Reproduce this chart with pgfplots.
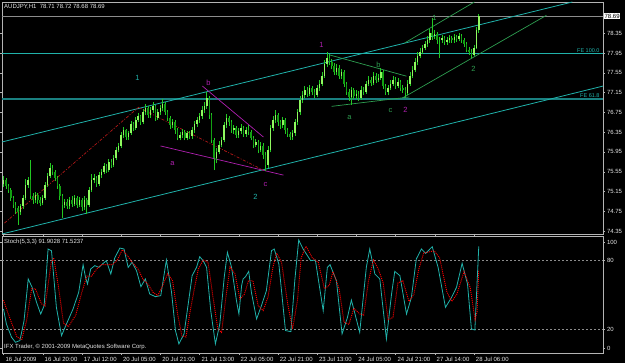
\documentclass[border=0pt]{standalone}
\usepackage{pgfplots}
\usepackage{pgfplotstable}
\usepackage{fontspec}
\setmainfont{Liberation Sans}
\pgfplotsset{compat=1.18}
\definecolor{wick}{HTML}{22C822}
\definecolor{bull}{HTML}{90F860}
\definecolor{bear}{HTML}{12A012}
\definecolor{chan}{HTML}{20B2AA}
\definecolor{fe}{HTML}{1A8080}
\definecolor{grn}{HTML}{2E9E50}
\definecolor{mag}{HTML}{B020B0}
\definecolor{dred}{HTML}{B01818}
\definecolor{frame}{HTML}{B4B4B4}
\definecolor{txt}{HTML}{E6E6E6}
\definecolor{bid}{HTML}{8C8C8C}

\pgfplotstableread{
i o h l c
0 75.30 75.46 75.25 75.38
1 75.38 75.42 75.20 75.26
2 75.26 75.30 75.12 75.18
3 75.18 75.22 74.96 75.02
4 75.02 75.06 74.82 74.88
5 74.88 74.94 74.70 74.81
6 74.81 74.86 74.47 74.73
7 74.73 74.90 74.68 74.85
8 74.85 75.08 74.80 75.02
9 75.02 75.40 74.98 75.28
10 75.28 75.45 75.22 75.38
11 75.38 75.78 75.00 75.06
12 75.06 75.12 74.90 74.98
13 74.98 75.14 74.92 75.08
14 75.08 75.12 74.90 74.98
15 74.98 75.04 74.85 74.92
16 74.92 75.08 74.88 75.02
17 75.02 75.34 74.98 75.28
18 75.28 75.52 75.24 75.46
19 75.46 75.72 75.42 75.62
20 75.62 75.68 75.48 75.54
21 75.54 75.58 75.36 75.42
22 75.42 75.46 75.20 75.26
23 75.26 75.30 74.98 75.06
24 75.06 75.10 74.61 74.88
25 74.88 75.00 74.82 74.94
26 74.94 75.00 74.80 74.85
27 74.85 75.04 74.80 74.98
28 74.98 75.06 74.84 74.90
29 74.90 75.08 74.85 75.02
30 75.02 75.06 74.82 74.88
31 74.88 75.04 74.84 74.98
32 74.98 75.02 74.76 74.83
33 74.83 75.06 74.78 74.98
34 74.98 75.02 74.70 74.88
35 74.88 75.24 74.84 75.18
36 75.18 75.50 75.14 75.38
37 75.38 75.50 75.32 75.42
38 75.42 75.46 75.24 75.30
39 75.30 75.54 75.26 75.48
40 75.48 75.60 75.42 75.54
41 75.54 75.72 75.50 75.66
42 75.66 75.70 75.52 75.58
43 75.58 75.80 75.54 75.74
44 75.74 75.80 75.62 75.68
45 75.68 75.88 75.64 75.82
46 75.82 76.05 75.78 75.99
47 75.99 76.12 75.94 76.07
48 76.07 76.35 76.02 76.29
49 76.29 76.46 76.24 76.39
50 76.39 76.42 76.19 76.25
51 76.25 76.38 76.20 76.33
52 76.33 76.57 76.30 76.51
53 76.51 76.56 76.38 76.43
54 76.43 76.66 76.40 76.59
55 76.59 76.74 76.55 76.67
56 76.67 76.70 76.50 76.55
57 76.55 76.82 76.52 76.75
58 76.75 76.92 76.70 76.83
59 76.83 76.88 76.64 76.69
60 76.69 76.86 76.64 76.79
61 76.79 76.96 76.74 76.87
62 76.87 76.90 76.58 76.63
63 76.63 76.82 76.60 76.75
64 76.75 76.90 76.70 76.83
65 76.83 77.02 76.78 76.92
66 76.92 76.96 76.70 76.75
67 76.75 76.80 76.58 76.63
68 76.63 76.68 76.42 76.49
69 76.49 76.62 76.44 76.55
70 76.55 76.60 76.32 76.39
71 76.39 76.44 76.18 76.23
72 76.23 76.36 76.18 76.29
73 76.29 76.42 76.24 76.35
74 76.35 76.40 76.18 76.23
75 76.23 76.38 76.18 76.33
76 76.33 76.38 76.22 76.27
77 76.27 76.45 76.22 76.39
78 76.39 76.58 76.34 76.51
79 76.51 76.66 76.46 76.59
80 76.59 76.74 76.54 76.67
81 76.67 76.88 76.62 76.79
82 76.79 76.96 76.74 76.87
83 76.87 77.16 76.82 77.04
84 77.04 77.08 76.62 76.69
85 76.69 76.74 76.12 76.19
86 76.19 76.24 75.58 75.82
87 75.82 76.02 75.72 75.95
88 75.95 76.16 75.90 76.09
89 76.09 76.26 76.04 76.19
90 76.19 76.56 76.14 76.49
91 76.49 76.72 76.44 76.63
92 76.63 76.68 76.48 76.55
93 76.55 76.60 76.34 76.39
94 76.39 76.50 76.32 76.43
95 76.43 76.48 76.24 76.29
96 76.29 76.44 76.24 76.37
97 76.37 76.52 76.32 76.43
98 76.43 76.48 76.26 76.31
99 76.31 76.46 76.26 76.39
100 76.39 76.50 76.30 76.35
101 76.35 76.40 76.18 76.23
102 76.23 76.28 76.02 76.09
103 76.09 76.22 76.04 76.15
104 76.15 76.20 75.92 75.99
105 75.99 76.14 75.94 76.07
106 76.07 76.12 75.80 75.89
107 75.89 75.94 75.56 75.68
108 75.68 76.06 75.62 75.99
109 75.99 76.50 75.94 76.43
110 76.43 76.68 76.38 76.59
111 76.59 76.80 76.54 76.69
112 76.69 76.74 76.48 76.55
113 76.55 76.60 76.42 76.49
114 76.49 76.66 76.44 76.59
115 76.59 76.64 76.32 76.39
116 76.39 76.44 76.26 76.31
117 76.31 76.36 76.20 76.25
118 76.25 76.40 76.20 76.33
119 76.33 76.62 76.28 76.55
120 76.55 76.82 76.50 76.75
121 76.75 77.08 76.70 77.00
122 77.00 77.18 76.94 77.10
123 77.10 77.28 77.04 77.20
124 77.20 77.26 77.06 77.12
125 77.12 77.30 77.08 77.24
126 77.24 77.28 77.10 77.16
127 77.16 77.22 77.04 77.10
128 77.10 77.30 77.06 77.24
129 77.24 77.40 77.18 77.32
130 77.32 77.56 77.28 77.48
131 77.48 77.80 77.44 77.72
132 77.72 77.97 77.66 77.84
133 77.84 77.92 77.70 77.76
134 77.76 77.82 77.62 77.68
135 77.68 77.74 77.50 77.56
136 77.56 77.72 77.50 77.64
137 77.64 77.70 77.42 77.48
138 77.48 77.62 77.42 77.56
139 77.56 77.60 77.26 77.32
140 77.32 77.36 77.10 77.16
141 77.16 77.22 76.98 77.06
142 77.06 77.26 76.90 77.20
143 77.20 77.24 77.02 77.08
144 77.08 77.20 77.02 77.12
145 77.12 77.18 76.98 77.04
146 77.04 77.28 77.00 77.20
147 77.20 77.26 77.10 77.16
148 77.16 77.38 77.12 77.32
149 77.32 77.48 77.28 77.40
150 77.40 77.46 77.28 77.34
151 77.34 77.56 77.30 77.48
152 77.48 77.54 77.34 77.40
153 77.40 77.52 77.36 77.44
154 77.44 77.64 77.40 77.56
155 77.56 77.60 77.22 77.28
156 77.28 77.32 77.10 77.16
157 77.16 77.30 77.10 77.24
158 77.24 77.40 77.20 77.32
159 77.32 77.48 77.28 77.40
160 77.40 77.46 77.22 77.28
161 77.28 77.44 77.24 77.36
162 77.36 77.40 77.18 77.24
163 77.24 77.30 77.14 77.20
164 77.20 77.26 77.06 77.14
165 77.14 77.40 77.10 77.32
166 77.32 77.56 77.28 77.48
167 77.48 77.68 77.44 77.60
168 77.60 77.84 77.56 77.76
169 77.76 77.96 77.70 77.89
170 77.89 78.05 77.84 77.97
171 77.97 78.12 77.92 78.05
172 78.05 78.20 78.00 78.13
173 78.13 78.30 78.08 78.21
174 78.21 78.44 78.16 78.35
175 78.35 78.65 78.22 78.29
176 78.29 78.42 78.24 78.33
177 78.33 78.38 78.14 78.21
178 78.21 78.28 77.84 78.21
179 78.21 78.32 78.16 78.25
180 78.25 78.30 78.12 78.17
181 78.17 78.28 78.12 78.21
182 78.21 78.32 78.16 78.25
183 78.25 78.30 78.16 78.21
184 78.21 78.33 78.16 78.27
185 78.27 78.32 78.18 78.23
186 78.23 78.36 78.20 78.29
187 78.29 78.33 78.16 78.21
188 78.21 78.26 78.08 78.13
189 78.13 78.18 77.96 78.01
190 78.01 78.06 77.90 77.97
191 77.97 78.02 77.84 77.91
192 77.91 78.12 77.88 78.05
193 78.05 78.48 78.02 78.41
194 78.41 78.74 78.36 78.69
}\candles

\begin{document}
\begin{tikzpicture}
\fill[black] (0,0) rectangle (625pt,363pt);
\useasboundingbox (0,0) rectangle (625pt,363pt);

% ---------------- price panel ----------------
\begin{axis}[
  at={(2pt,129pt)}, anchor=south west, scale only axis,
  width=601pt, height=232pt,
  xmin=-0.6, xmax=244.7, ymin=74.29, ymax=78.98,
  axis line style={draw=frame},
  xtick=\empty,
  ytick={74.35,74.75,75.15,75.55,75.95,76.35,76.75,77.15,77.55,77.95,78.35},
  yticklabel pos=right,
  tick align=outside, major tick length=2pt, tick style={draw=frame},
  yticklabel style={font=\fontsize{6}{7}\selectfont, text=txt, xshift=-1.5pt,
    /pgf/number format/.cd, fixed, precision=2, fixed zerofill, assume math mode=true},
  clip mode=individual,
]
% horizontal levels
\addplot[bid, line width=0.6pt] coordinates {(-0.6,78.69) (244.7,78.69)};
\addplot[chan, line width=0.6pt] coordinates {(-0.6,77.95) (244.7,77.95)};
\addplot[fe, line width=1.6pt] coordinates {(-0.6,77.02) (244.7,77.02)};
% channel lines
\addplot[chan, line width=0.8pt] coordinates {(-0.6,76.15) (232.2,78.98)};
\addplot[chan, line width=0.8pt] coordinates {(-0.6,74.29) (244.7,77.28)};
% green lines
\addplot[grn, line width=0.7pt] coordinates {(163.7,78.15) (192.2,78.98)};
\addplot[grn, line width=0.7pt] coordinates {(133.1,77.91) (164.5,77.48)};
\addplot[grn, line width=0.7pt] coordinates {(133.9,76.87) (165.7,77.06)};
\addplot[grn, line width=0.7pt] coordinates {(162.9,77.04) (221.6,78.71)};
% magenta lines
\addplot[mag, line width=0.7pt] coordinates {(81.2,77.28) (106.1,76.25)};
\addplot[mag, line width=0.7pt] coordinates {(64.1,76.07) (114.3,75.48)};
% red dash-dot wave line
\addplot[dred, line width=0.7pt, dash pattern=on 3pt off 1.5pt on 1pt off 1.5pt] coordinates {(0.4,74.51) (55.1,76.85) (106.1,75.58)};

% candles
\addplot[wick, line width=0.7pt, quiver={u=0, v=\thisrow{h}-\thisrow{l}}] table[x=i, y=l]{\candles};
\addplot[bull, line width=1.5pt, quiver={u=0, v=\thisrow{c}-\thisrow{o}},
  restrict expr to domain={\thisrow{c}-\thisrow{o}}{0:10}] table[x=i, y=o]{\candles};
\addplot[bear, line width=1.5pt, quiver={u=0, v=\thisrow{c}-\thisrow{o}},
  restrict expr to domain={\thisrow{c}-\thisrow{o}}{-10:-0.001}] table[x=i, y=o]{\candles};

% texts
\node[anchor=north west, text=txt, font=\fontsize{6}{7}\selectfont, inner sep=0pt, xshift=2pt, yshift=-2pt] at (rel axis cs:0,1) {AUDJPY,H1\ \ 78.71 78.72 78.68 78.69};
\node[anchor=west, fill=white, text=black, font=\fontsize{6}{7}\selectfont, inner xsep=0.6pt, inner ysep=0.8pt, xshift=0.8pt] at (axis cs:244.7,78.69) {78.69};
\node[anchor=south east, text=chan, font=\fontsize{5.5}{6}\selectfont, inner sep=0.6pt] at (axis cs:243.6,77.95) {FE 100.0};
\node[anchor=south east, text=chan, font=\fontsize{5.5}{6}\selectfont, inner sep=0.6pt] at (axis cs:243.6,77.03) {FE 61.8};
\tikzset{wl/.style={font=\fontsize{7.5}{8}\selectfont, inner sep=0pt}}
\node[wl, text=chan] at (axis cs:54.7,77.44) {1};
\node[wl, text=chan] at (axis cs:102.9,75.04) {2};
\node[wl, text=mag] at (axis cs:83.7,77.34) {b};
\node[wl, text=mag] at (axis cs:69.0,75.72) {a};
\node[wl, text=mag] at (axis cs:106.9,75.30) {c};
\node[wl, text=mag] at (axis cs:129.8,78.11) {1};
\node[wl, text=mag] at (axis cs:164.1,76.79) {2};
\node[wl, text=grn] at (axis cs:153.1,77.70) {b};
\node[wl, text=grn] at (axis cs:141.2,76.65) {a};
\node[wl, text=grn] at (axis cs:158.0,76.79) {c};
\node[wl, text=grn] at (axis cs:175.9,78.65) {1};
\node[wl, text=grn] at (axis cs:191.8,77.62) {2};
\end{axis}

% ---------------- stochastic panel ----------------
\begin{axis}[
  at={(2pt,10pt)}, anchor=south west, scale only axis,
  width=601pt, height=117pt,
  xmin=-0.6, xmax=244.7, ymin=-0.9, ymax=100.9,
  axis line style={draw=frame},
  xtick={0,16,...,192},
  xticklabels={16 Jul 2009,16 Jul 20:00,17 Jul 12:00,20 Jul 05:00,20 Jul 21:00,21 Jul 13:00,22 Jul 05:00,22 Jul 21:00,23 Jul 13:00,24 Jul 05:00,24 Jul 21:00,27 Jul 14:00,28 Jul 06:00},
  xticklabel style={font=\fontsize{6}{7}\selectfont, text=txt, anchor=north west, xshift=-1.5pt, yshift=1pt},
  ytick={3.5,20,80,95.7}, yticklabels={0,20,80,100},
  yticklabel pos=right,
  yticklabel style={font=\fontsize{6}{7}\selectfont, text=txt, xshift=-1.5pt},
  tick align=outside, major tick length=2pt, tick style={draw=frame},
  clip mode=individual,
]
\addplot[bid, line width=0.5pt, dash pattern=on 2pt off 2pt] coordinates {(-0.6,80) (244.7,80)};
\addplot[bid, line width=0.5pt, dash pattern=on 2pt off 2pt] coordinates {(-0.6,20) (244.7,20)};
% main line
\addplot[chan, line width=0.8pt] coordinates {
(0,37.4)(1.2,24.3)(3.3,12.8)(4.9,8.4)(6.7,9.9)(8.4,27.2)(10.1,63.5)(11.7,56.2)(13.5,43.2)(15.2,33.0)(16.6,40.3)(18.2,89.6)(19.6,88.1)(21.6,38.8)(23.7,14.2)(25.7,24.3)(28.4,37.4)(30.7,51.9)(32.5,75.9)(33.5,64.9)(34.3,59.1)(35.6,72.2)(37.3,75.1)(38.9,73.6)(40.7,77.1)(42.0,79.4)(43.8,67.8)(45.4,81.7)(47.5,90.4)(49.2,89.6)(50.9,73.6)(52.5,78.0)(54.3,70.7)(56.1,56.8)(57.9,63.5)(59.7,50.4)(62.0,48.1)(64.2,49.0)(66.5,80.0)(68.6,51.9)(70.2,18.6)(71.6,7.0)(73.7,15.7)(75.4,41.7)(77.0,66.4)(78.8,73.6)(80.1,82.9)(81.5,79.4)(82.9,73.6)(84.6,35.9)(86.5,7.0)(88.3,24.3)(90.1,64.9)(91.4,86.7)(93.1,73.6)(95.1,44.6)(96.1,33.0)(97.2,57.7)(97.8,63.5)(98.8,65.5)(100.1,70.1)(101.2,51.9)(103.3,28.7)(105.3,40.3)(107.3,53.3)(109.4,88.1)(110.5,89.6)(112.4,76.5)(115.1,18.6)(117.3,17.7)(118.9,62.0)(120.5,97.4)(122.3,89.6)(125.4,79.4)(127.3,80.0)(130.5,35.9)(132.2,73.6)(133.3,75.9)(135.9,62.0)(138.2,15.7)(140.4,30.1)(142.0,45.2)(145.4,17.1)(148.1,73.6)(149.5,89.6)(151.6,67.8)(153.6,63.5)(156.3,11.3)(158.4,50.4)(159.7,70.1)(161.8,66.4)(164.5,33.0)(166.5,47.5)(168.5,80.9)(170.6,89.6)(172.3,85.8)(175.0,91.6)(177.4,73.6)(180.4,38.8)(182.9,47.5)(184.9,56.2)(187.2,77.1)(189.4,59.1)(191.0,20.0)(192.4,19.1)(194,91.9)};
% signal line
\addplot[red, line width=0.9pt, dash pattern=on 1pt off 1pt] coordinates {
(0,45)(2.5,30)(5.5,13)(7.5,11)(9.5,28)(11.5,55)(13,55)(15.5,42)(17,40)(19.5,78)(20.5,82)(22.5,56)(24.5,25)(26.5,22)(29.5,32)(32,52)(34,66)(36,66)(38,72)(40,76)(42.5,76)(44.5,76)(46.5,80)(48.5,89)(50.5,84)(52.5,78)(55,72)(57,63)(59,59)(61,52)(63,49)(65,58)(67,68)(69,62)(71,34)(72.8,14)(74.5,13)(76,33)(78,56)(79.5,72)(81.5,80)(83.5,78)(85.5,48)(87.5,20)(89,17)(90.8,48)(92.5,74)(94.5,68)(96.5,46)(98.3,50)(100,62)(101.8,62)(104,40)(106,36)(108,48)(110,74)(111.5,86)(113.5,78)(116,42)(118,20)(120,45)(121.5,82)(123.5,92)(126,82)(128.5,78)(131,55)(133,58)(134.5,70)(137,55)(139,26)(141,24)(143,38)(145.5,33)(147,32)(149,62)(151,80)(153,72)(155,60)(157,28)(159,30)(161,60)(163,62)(165.5,44)(167.5,50)(169.5,72)(171.5,86)(173.5,87)(175.8,88)(178,82)(181,52)(183,44)(185,50)(188,70)(190.5,56)(192.5,28)(193.3,35)(194,71.5)};
\node[anchor=north west, text=txt, font=\fontsize{6}{7}\selectfont, inner sep=0pt, xshift=2pt, yshift=-3pt] at (rel axis cs:0,1) {Stoch(5,3,3) 91.9028 71.5237};
\node[anchor=south west, text=txt, font=\fontsize{6}{7}\selectfont, inner sep=0pt, xshift=2pt, yshift=3pt] at (rel axis cs:0,0) {IFX Trader, © 2001-2009 MetaQuotes Software Corp.};
\end{axis}
\end{tikzpicture}
\end{document}
